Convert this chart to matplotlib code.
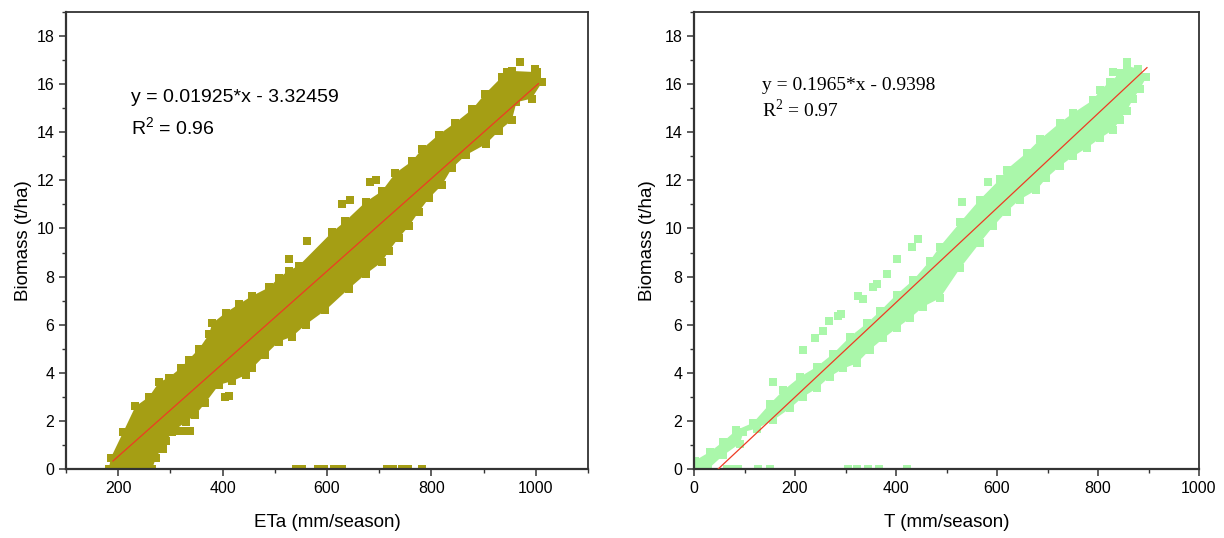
import matplotlib.pyplot as plt
import numpy as np
from matplotlib.ticker import MultipleLocator

plt.rcParams['font.family'] = ['Liberation Sans', 'DejaVu Sans']

# --- ETa vs biomass ---
# outline of the dense point cloud (mm/season, t/ha)
eta_upper_x = [182, 186, 210, 233, 259, 278, 297, 320, 335, 355, 374, 380, 406, 431, 457, 489, 508, 527, 546,
               610, 635, 674, 705, 731, 763, 782, 814, 846, 878, 903, 935, 954, 1002, 1012]
eta_upper_y = [0.0, 0.47, 1.55, 2.6, 3.0, 3.6, 3.8, 4.2, 4.55, 5.0, 5.6, 6.05, 6.5, 6.85, 7.2, 7.55, 7.95,
               8.25, 8.45, 9.85, 10.3, 11.1, 11.55, 12.3, 12.8, 13.3, 13.9, 14.4, 14.95, 15.6, 16.3, 16.55,
               16.5, 16.08]
eta_lower_x = [182, 265, 272, 291, 304, 329, 348, 367, 393, 418, 444, 457, 482, 508, 533, 559, 597, 642, 674,
               705, 718, 737, 757, 776, 795, 820, 839, 866, 904, 929, 954, 963, 992, 1012]
eta_lower_y = [0.0, 0.0, 0.45, 1.15, 1.55, 1.95, 2.25, 2.75, 3.5, 3.65, 3.9, 4.2, 4.75, 5.3, 5.5, 6.0, 6.6,
               7.5, 8.1, 8.6, 9.05, 9.6, 10.1, 10.7, 11.25, 11.8, 12.5, 13.05, 13.5, 14.05, 14.5, 15.25, 15.4,
               16.08]
# scattered points outside the cloud
eta_out_x = [222, 236, 250, 285, 310, 325, 338, 404, 412, 527, 562, 629, 645, 683, 693, 945, 970, 999, 1002,
             983, 540, 552, 582, 594, 614, 628, 714, 726, 744, 756, 782]
eta_out_y = [1.5, 1.5, 1.55, 0.85, 1.6, 1.6, 1.6, 3.0, 3.05, 8.74, 9.5, 11.03, 11.2, 11.93, 12.0, 16.5, 16.93,
             16.65, 16.17, 15.6, 0, 0, 0, 0, 0, 0, 0, 0, 0, 0, 0]
eta_slope, eta_icpt = 0.01925, -3.32459
eta_fit_x = [190, 1005]

# --- T vs biomass ---
t_upper_x = [0, 2, 32, 58, 84, 117, 150, 177, 210, 243, 276, 309, 342, 368, 401, 434, 467, 487, 527, 566, 606,
             619, 659, 685, 725, 751, 791, 804, 824, 844, 857, 880, 896]
t_upper_y = [0.0, 0.35, 0.72, 1.14, 1.62, 1.92, 2.7, 3.27, 3.83, 4.25, 4.8, 5.5, 6.05, 6.55, 7.25, 7.85, 8.65,
             9.25, 10.25, 11.2, 12.05, 12.45, 13.15, 13.7, 14.4, 14.8, 15.35, 15.75, 16.1, 16.45, 16.75, 16.65,
             16.3]
t_lower_x = [0, 28, 58, 91, 98, 124, 157, 190, 216, 243, 269, 296, 322, 348, 375, 401, 428, 454, 487, 527, 566,
             593, 619, 645, 678, 698, 725, 751, 778, 804, 830, 843, 857, 870, 883, 896]
t_lower_y = [0.0, 0.0, 0.57, 1.06, 1.54, 1.68, 2.03, 2.52, 3.0, 3.35, 3.84, 4.18, 4.39, 4.95, 5.43, 5.85, 6.27,
             6.75, 7.1, 8.35, 9.4, 10.1, 10.7, 11.2, 11.6, 12.1, 12.6, 13.0, 13.35, 13.75, 14.1, 14.5, 14.9, 15.4,
             15.8, 16.3]
t_out_x = [157, 216, 240, 256, 268, 286, 292, 325, 335, 355, 362, 383, 401, 431, 444, 530, 583, 830, 857,
           66, 78, 88, 127, 150, 305, 322, 345, 366, 421]
t_out_y = [3.6, 4.95, 5.45, 5.75, 6.17, 6.37, 6.45, 7.2, 7.07, 7.55, 7.7, 8.1, 8.74, 9.22, 9.57, 11.1, 11.93,
           16.5, 16.93, 0, 0, 0, 0, 0, 0, 0, 0, 0, 0]
t_slope, t_icpt = 0.01965, -0.9398
t_fit_x = [47.8, 897]

fig = plt.figure(figsize=(12.24, 5.38), dpi=100)
ax1 = fig.add_axes([66 / 1224, 1 - 469 / 538, 522 / 1224, 457 / 538])
ax2 = fig.add_axes([694 / 1224, 1 - 469 / 538, 505 / 1224, 457 / 538])


def draw_panel(ax, ux, uy, lx, ly, ox, oy, color, slope, icpt, fit_x):
    # cloud body, its square edge points, then the stray points
    ax.fill(np.r_[ux, lx[::-1]], np.r_[uy, ly[::-1]], color=color, lw=0, zorder=2)
    ax.scatter(np.r_[ux, lx], np.r_[uy, ly], marker='s', s=34, color=color, lw=0, zorder=2)
    ax.scatter(ox, oy, marker='s', s=34, color=color, lw=0, zorder=2)
    fx = np.array(fit_x)
    ax.plot(fx, slope * fx + icpt, color='#ee3b24', lw=0.9, zorder=3)


def style_axis(ax, xlim, xlabel):
    ax.set_xlim(*xlim)
    ax.set_ylim(0, 19)
    ax.xaxis.set_major_locator(MultipleLocator(200))
    ax.xaxis.set_minor_locator(MultipleLocator(100))
    ax.yaxis.set_major_locator(MultipleLocator(2))
    ax.yaxis.set_minor_locator(MultipleLocator(1))
    ax.tick_params(which='major', direction='out', length=5, width=1.1, labelsize=11.5, color='#333333')
    ax.tick_params(which='minor', direction='out', length=3, width=1.0, color='#333333')
    for side in ax.spines.values():
        side.set_linewidth(1.3)
        side.set_color('#333333')
    ax.spines['left'].set_linewidth(1.6)
    ax.spines['bottom'].set_linewidth(1.6)
    ax.set_xlabel(xlabel, fontsize=13.5, labelpad=13)
    ax.set_ylabel('Biomass (t/ha)', fontsize=13.5, labelpad=3)


draw_panel(ax1, eta_upper_x, eta_upper_y, eta_lower_x, eta_lower_y, eta_out_x, eta_out_y,
           '#a59e14', eta_slope, eta_icpt, eta_fit_x)
style_axis(ax1, (100, 1100), 'ETa (mm/season)')
xt = ax1.get_xticks()
ax1.set_xticks([v for v in xt if 200 <= v <= 1000])
ax1.set_xlim(100, 1100)
ax1.text(0.1245, 0.812, 'y = 0.01925*x - 3.32459', transform=ax1.transAxes, fontsize=14, va='center')
ax1.text(0.1245, 0.746, r'R$^\mathregular{2}$ = 0.96', transform=ax1.transAxes, fontsize=14, va='center')

draw_panel(ax2, t_upper_x, t_upper_y, t_lower_x, t_lower_y, t_out_x, t_out_y,
           '#aaf7aa', t_slope, t_icpt, t_fit_x)
style_axis(ax2, (0, 1000), 'T (mm/season)')
ax2.yaxis.labelpad = 6
serif = ['Liberation Serif', 'DejaVu Serif']
ax2.text(0.1347, 0.840, 'y = 0.1965*x - 0.9398', transform=ax2.transAxes, fontsize=14, va='center',
         family=serif)
ax2.text(0.1347, 0.786, r'R$^\mathregular{2}$ = 0.97', transform=ax2.transAxes, fontsize=14, va='center',
         family=serif)

fig.savefig('out.png', dpi=100)
